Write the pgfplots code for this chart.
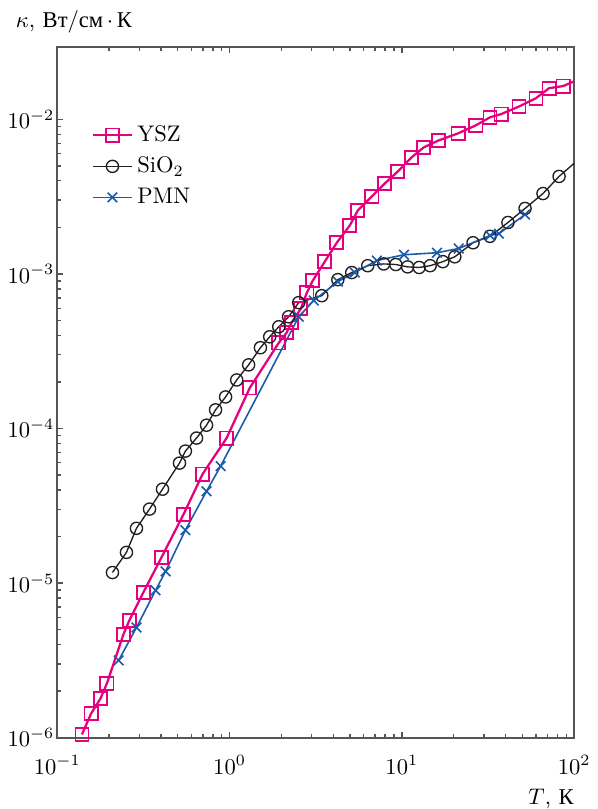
\documentclass[border=0pt]{standalone}
\usepackage{fontspec}
\newfontfamily\cyr{Liberation Serif}
\usepackage{pgfplots}
\pgfplotsset{compat=1.18}
\definecolor{yszpink}{RGB}{230,0,126}
\definecolor{pmnblue}{RGB}{25,90,170}
\definecolor{siodark}{RGB}{35,31,32}
\definecolor{framegray}{RGB}{85,85,85}
\begin{document}
\begin{tikzpicture}
\begin{axis}[
  xmode=log, ymode=log,
  scale only axis,
  width=229pt, height=306pt,
  xmin=0.1, xmax=100,
  ymin=1e-6, ymax=2.93e-2,
  axis line style={framegray, line width=0.8pt},
  tick style={framegray, line width=0.6pt},
  major tick length=2.5pt, minor tick length=1.5pt,
  tick align=inside,
  ytick pos=left,
  yticklabel style={xshift=2.2pt},
  xticklabel style={yshift=-4.5pt},
  xlabel={$T$, {\cyr К}},
  ylabel={$\kappa$, {\cyr Вт}/{\cyr см}$\,\cdot\,${\cyr К}},
  xlabel style={at={(axis description cs:1,-0.097)}, anchor=base east, inner sep=0pt},
  ylabel style={rotate=-90, at={(axis description cs:-0.081,1.029)}, anchor=base west,
    inner xsep=0pt, inner ysep=4.5pt},
  legend style={draw=none, fill=none, at={(0.062,0.897)}, anchor=north west,
    row sep=1.3pt, inner sep=1pt},
  legend cell align=left,
  legend image post style={mark indices={2}},
]
% YSZ, last row only carries the line to the frame
\addplot[yszpink, line width=1pt, mark=square, mark size=2.9pt,
  mark options={line width=0.8pt}, mark indices={1,...,36}]
table[x=T, y=k] {
T k
0.139 1.05e-6
0.157 1.43e-6
0.178 1.79e-6
0.194 2.24e-6
0.242 4.66e-6
0.262 5.74e-6
0.316 8.71e-6
0.403 1.47e-5
0.541 2.79e-5
0.697 5.07e-5
0.961 8.67e-5
1.31 1.83e-4
1.93 3.58e-4
2.14 4.16e-4
2.29 4.83e-4
2.59 5.95e-4
2.81 7.56e-4
3.04 9.04e-4
3.57 1.20e-3
4.19 1.59e-3
4.99 2.06e-3
5.55 2.57e-3
6.70 3.17e-3
7.97 3.85e-3
9.48 4.60e-3
11.4 5.68e-3
13.4 6.58e-3
16.4 7.31e-3
21.2 8.11e-3
26.9 9.14e-3
32.5 1.03e-2
37.7 1.08e-2
47.9 1.21e-2
60.1 1.37e-2
71.6 1.59e-2
86.3 1.64e-2
100 1.76e-2
};
\addlegendentry{YSZ}
% SiO2
\addplot[siodark, line width=0.6pt, mark=o, mark size=2.7pt, mark indices={1,...,35}]
table[x=T, y=k] {
T k
0.209 1.17e-5
0.252 1.58e-5
0.288 2.26e-5
0.343 3.01e-5
0.408 4.05e-5
0.512 5.97e-5
0.554 7.14e-5
0.643 8.67e-5
0.735 1.05e-4
0.829 1.32e-4
0.948 1.60e-4
1.10 2.06e-4
1.29 2.58e-4
1.51 3.33e-4
1.71 3.92e-4
1.93 4.55e-4
2.20 5.28e-4
2.52 6.52e-4
3.43 7.23e-4
4.25 9.18e-4
5.12 1.02e-3
6.34 1.13e-3
7.85 1.16e-3
9.22 1.15e-3
10.8 1.11e-3
12.6 1.10e-3
14.6 1.13e-3
17.3 1.20e-3
20.3 1.29e-3
25.9 1.59e-3
32.5 1.75e-3
41.3 2.15e-3
51.9 2.65e-3
66.0 3.31e-3
81.8 4.27e-3
100 5.19e-3
};
\addlegendentry{SiO$_2$}
% PMN
\addplot[pmnblue, line width=0.7pt, mark=x, mark size=3pt]
table[x=T, y=k] {
T k
0.227 3.16e-6
0.288 5.16e-6
0.372 8.98e-6
0.425 1.19e-5
0.554 2.20e-5
0.735 3.93e-5
0.887 5.71e-5
2.52 5.28e-4
3.08 6.72e-4
4.25 8.91e-4
5.33 1.02e-3
7.16 1.22e-3
10.3 1.33e-3
16.0 1.37e-3
21.4 1.46e-3
32.5 1.77e-3
36.6 1.82e-3
51.9 2.42e-3
};
\addlegendentry{PMN}
\end{axis}
\end{tikzpicture}
\end{document}
